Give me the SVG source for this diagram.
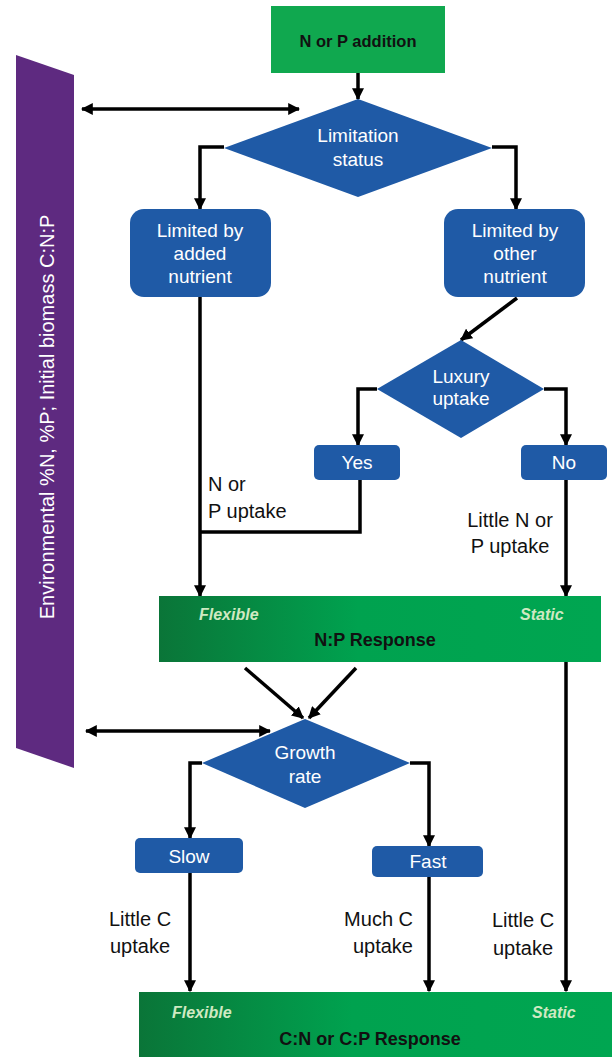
<svg xmlns="http://www.w3.org/2000/svg" width="612" height="1057" viewBox="0 0 612 1057">
<defs>
<linearGradient id="barGrad" x1="0" y1="0" x2="1" y2="0">
<stop offset="0" stop-color="#0a7538"/>
<stop offset="0.45" stop-color="#00a24f"/>
<stop offset="1" stop-color="#00a651"/>
</linearGradient>
<marker id="ah" viewBox="0 0 10 10" refX="9" refY="5" markerWidth="12" markerHeight="12" markerUnits="userSpaceOnUse" orient="auto-start-reverse">
<path d="M0,0 L10,5 L0,10 z" fill="#000"/>
</marker>
<style>
.node{fill:#1f5aa6}
.wt{font-family:"Liberation Sans",Arial,sans-serif;font-size:19px;fill:#fff;text-anchor:middle}
.lbl{font-family:"Liberation Sans",Arial,sans-serif;font-size:20px;fill:#111}
.bt{font-family:"Liberation Sans",Arial,sans-serif;font-size:18px;font-weight:bold;fill:#111;text-anchor:middle}
.it{font-family:"Liberation Sans",Arial,sans-serif;font-size:16px;font-style:italic;font-weight:bold;fill:#cfe9c2}
.c{fill:none;stroke:#000;stroke-width:3.5}
.a{marker-end:url(#ah)}
.d{marker-start:url(#ah);marker-end:url(#ah)}
</style>
</defs>
<rect width="612" height="1057" fill="#fff"/>
<g id="env-banner">
<polygon points="16,55 74,75 74,768 16,748" fill="#5e2a80"/>
<text transform="translate(54,417) rotate(-90)" style="font-family:'Liberation Sans',Arial,sans-serif;font-size:20px;fill:#fff;text-anchor:middle">Environmental %N, %P; Initial biomass C:N:P</text>
</g>
<g id="connectors">
<path class="c a" d="M358,73 V99"/>
<path class="c d" d="M82,109 H299"/>
<path class="c a" d="M224,147 H200 V209"/>
<path class="c a" d="M492,147 H516 V209"/>
<path class="c a" d="M200,297 V596"/>
<path class="c a" d="M517,298 L461,340"/>
<path class="c a" d="M377,389 H358 V445"/>
<path class="c a" d="M544,389 H566 V445"/>
<path class="c" d="M360,480 V532 H200"/>
<path class="c a" d="M566,480 V596"/>
<path class="c a" d="M245,668 L303,718"/>
<path class="c a" d="M356,668 L309,718"/>
<path class="c d" d="M86,731 H270"/>
<path class="c a" d="M202,763 H190 V838"/>
<path class="c a" d="M410,763 H429 V846"/>
<path class="c a" d="M190,873 V991"/>
<path class="c a" d="M429,877 V991"/>
<path class="c a" d="M566,662 V991"/>
</g>
<g id="n-addition">
<rect x="271" y="6" width="174" height="67" fill="#10a84f"/>
<text x="358" y="47" class="bt" style="font-size:16.5px">N or P addition</text>
</g>
<g id="limitation-status">
<polygon class="node" points="358,99 492,148 358,197 224,148"/>
<text x="358" y="142" class="wt">Limitation</text>
<text x="358" y="166" class="wt">status</text>
</g>
<g id="limited-added">
<rect class="node" x="130" y="209" width="141" height="88" rx="14"/>
<text x="200" y="237" class="wt">Limited by</text>
<text x="200" y="260" class="wt">added</text>
<text x="200" y="283" class="wt">nutrient</text>
</g>
<g id="limited-other">
<rect class="node" x="444" y="209" width="141" height="88" rx="14"/>
<text x="515" y="237" class="wt">Limited by</text>
<text x="515" y="260" class="wt">other</text>
<text x="515" y="283" class="wt">nutrient</text>
</g>
<g id="luxury-uptake">
<polygon class="node" points="461,340 544,389 461,438 377,389"/>
<text x="461" y="383" class="wt">Luxury</text>
<text x="461" y="405" class="wt">uptake</text>
</g>
<g id="yes">
<rect class="node" x="314" y="445" width="86" height="35" rx="5"/>
<text x="357" y="469" class="wt">Yes</text>
</g>
<g id="no">
<rect class="node" x="521" y="445" width="86" height="35" rx="5"/>
<text x="564" y="469" class="wt">No</text>
</g>
<g id="labels-np">
<text x="208" y="491" class="lbl">N or</text>
<text x="208" y="518" class="lbl">P uptake</text>
<text x="510" y="527" class="lbl" text-anchor="middle">Little N or</text>
<text x="510" y="553" class="lbl" text-anchor="middle">P uptake</text>
</g>
<g id="np-response">
<rect x="159" y="596" width="442" height="66" fill="url(#barGrad)"/>
<text x="199" y="620" class="it">Flexible</text>
<text x="520" y="620" class="it">Static</text>
<text x="375" y="646" class="bt">N:P Response</text>
</g>
<g id="growth-rate">
<polygon class="node" points="305,719 410,763 305,808 202,763"/>
<text x="305" y="759" class="wt">Growth</text>
<text x="305" y="783" class="wt">rate</text>
</g>
<g id="slow">
<rect class="node" x="135" y="838" width="108" height="35" rx="5"/>
<text x="189" y="863" class="wt">Slow</text>
</g>
<g id="fast">
<rect class="node" x="372" y="846" width="111" height="31" rx="5"/>
<text x="428" y="868" class="wt">Fast</text>
</g>
<g id="labels-c">
<text x="140" y="926" class="lbl" text-anchor="middle">Little C</text>
<text x="140" y="953" class="lbl" text-anchor="middle">uptake</text>
<text x="413" y="926" class="lbl" text-anchor="end">Much C</text>
<text x="413" y="953" class="lbl" text-anchor="end">uptake</text>
<text x="523" y="927" class="lbl" text-anchor="middle">Little C</text>
<text x="523" y="955" class="lbl" text-anchor="middle">uptake</text>
</g>
<g id="cn-response">
<rect x="139" y="992" width="473" height="65" fill="url(#barGrad)"/>
<text x="172" y="1018" class="it">Flexible</text>
<text x="532" y="1018" class="it">Static</text>
<text x="370" y="1045" class="bt">C:N or C:P Response</text>
</g>
</svg>
